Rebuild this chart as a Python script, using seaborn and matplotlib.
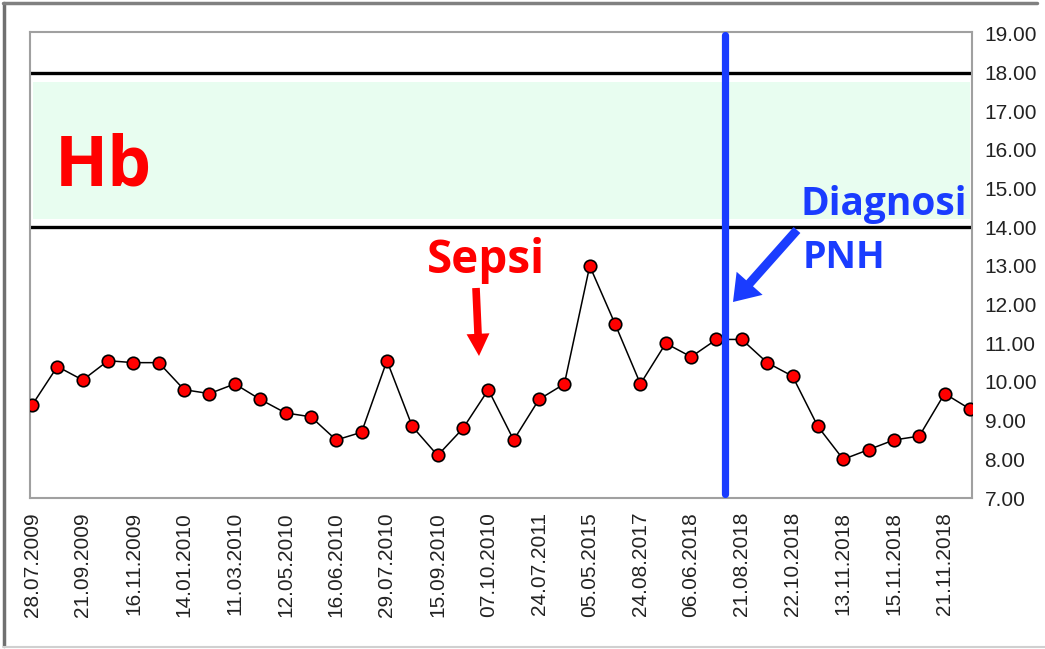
import matplotlib
matplotlib.use("Agg")
import matplotlib.pyplot as plt
import seaborn as sns
import numpy as np
from matplotlib.lines import Line2D

# Hb values (g/dL), one per visit
hb_values = [9.4, 10.4, 10.05, 10.55, 10.5, 10.5, 9.8, 9.7, 9.95, 9.55,
             9.2, 9.1, 8.5, 8.7, 10.55, 8.85, 8.1, 8.8, 9.8, 8.5,
             9.55, 9.95, 13.0, 11.5, 9.95, 11.0, 10.65, 11.1, 11.1, 10.5,
             10.15, 8.85, 8.0, 8.25, 8.5, 8.6, 9.7, 9.3]
visit_idx = list(range(len(hb_values)))

# only every second visit carries a date label
date_labels = ['28.07.2009', '21.09.2009', '16.11.2009', '14.01.2010', '11.03.2010',
               '12.05.2010', '16.06.2010', '29.07.2010', '15.09.2010', '07.10.2010',
               '24.07.2011', '05.05.2015', '24.08.2017', '06.06.2018', '21.08.2018',
               '22.10.2018', '13.11.2018', '15.11.2018', '21.11.2018']
date_ticks = visit_idx[::2]

y_ticks = [7, 8, 9, 10, 11, 12, 13, 14, 15, 16, 17, 18, 19]
normal_low, normal_high = 14.0, 18.0
band_low, band_high = 14.22, 17.75
diagnosis_pos = 27.32

W, H = 1045, 649
RED = '#ff0000'
BLUE = '#1a3cff'

sns.set_theme(style="white")
plt.rcParams['font.family'] = ['Liberation Sans', 'DejaVu Sans']

fig = plt.figure(figsize=(W / 100, H / 100), dpi=100)
fig.patch.set_facecolor('white')
ax = fig.add_axes([30 / W, 1 - 498 / H, (972 - 30) / W, (498 - 32) / H])

# normal range band and its limits
ax.axhspan(band_low, band_high, xmin=0.003, xmax=0.998, color='#e8fdf0', lw=0, zorder=0)
ax.axhline(normal_high, color='black', lw=2.4, zorder=1)
ax.axhline(normal_low, color='black', lw=2.4, zorder=1)

sns.lineplot(x=visit_idx, y=hb_values, ax=ax, color='black', lw=1.1,
             marker='o', markersize=9, markerfacecolor=RED,
             markeredgecolor='black', markeredgewidth=1.2, zorder=3)

ax.axvline(diagnosis_pos, ymin=0.009, ymax=0.994, color=BLUE, lw=5.2, zorder=4)

ax.set_xlim(-0.08, 37.08)
ax.set_ylim(7, 19.05)
ax.yaxis.tick_right()
ax.set_yticks(y_ticks)
ax.set_yticklabels([f'{v:.2f}' for v in y_ticks])
ax.set_xticks(date_ticks)
ax.set_xticklabels(date_labels, rotation=90)
ax.tick_params(axis='y', length=0, pad=9, labelsize=15, labelcolor='#222222')
ax.tick_params(axis='x', length=0, pad=10, labelsize=15, labelcolor='#222222')
ax.set_xlabel('')
ax.set_ylabel('')
for sp in ax.spines.values():
    sp.set_color('#a0a0a0')
    sp.set_linewidth(1.5)
ax.grid(False)

# annotations
def fx(px):
    return px / W

def fy(py):
    return 1 - py / H

fig.text(fx(55), fy(186), 'Hb', color=RED, fontsize=50, fontweight='bold',
         family=['Open Sans', 'DejaVu Sans'], ha='left', va='baseline')
fig.text(fx(427), fy(273), 'Sepsi', color=RED, fontsize=33, fontweight='bold',
         family=['Open Sans', 'DejaVu Sans'], ha='left', va='baseline')
fig.text(fx(801), fy(215), 'Diagnosi', color=BLUE, fontsize=28, fontweight='bold',
         family=['Open Sans', 'DejaVu Sans'], ha='left', va='baseline')
fig.text(fx(803), fy(268), 'PNH', color=BLUE, fontsize=27, fontweight='bold',
         family=['Open Sans', 'DejaVu Sans'], ha='left', va='baseline')

ax.annotate('', xy=(479, H - 356), xytext=(476, H - 288), xycoords='figure pixels',
            textcoords='figure pixels',
            arrowprops=dict(width=5.5, headwidth=16.5, headlength=16, color=RED, lw=0))
ax.annotate('', xy=(733, H - 302), xytext=(797, H - 230), xycoords='figure pixels',
            textcoords='figure pixels',
            arrowprops=dict(width=6.5, headwidth=25, headlength=18, color=BLUE, lw=0))

# window frame around the screenshot
fig.add_artist(Line2D([fx(4), fx(4)], [fy(3), fy(646)], color='#707070', lw=2.5))
fig.add_artist(Line2D([fx(3), fx(1037)], [fy(3), fy(3)], color='#808080', lw=2.5))
fig.add_artist(Line2D([fx(3), fx(1045)], [fy(647), fy(647)], color='#d0d0d0', lw=1.5))

fig.savefig('out.png', dpi=100, facecolor='white')
